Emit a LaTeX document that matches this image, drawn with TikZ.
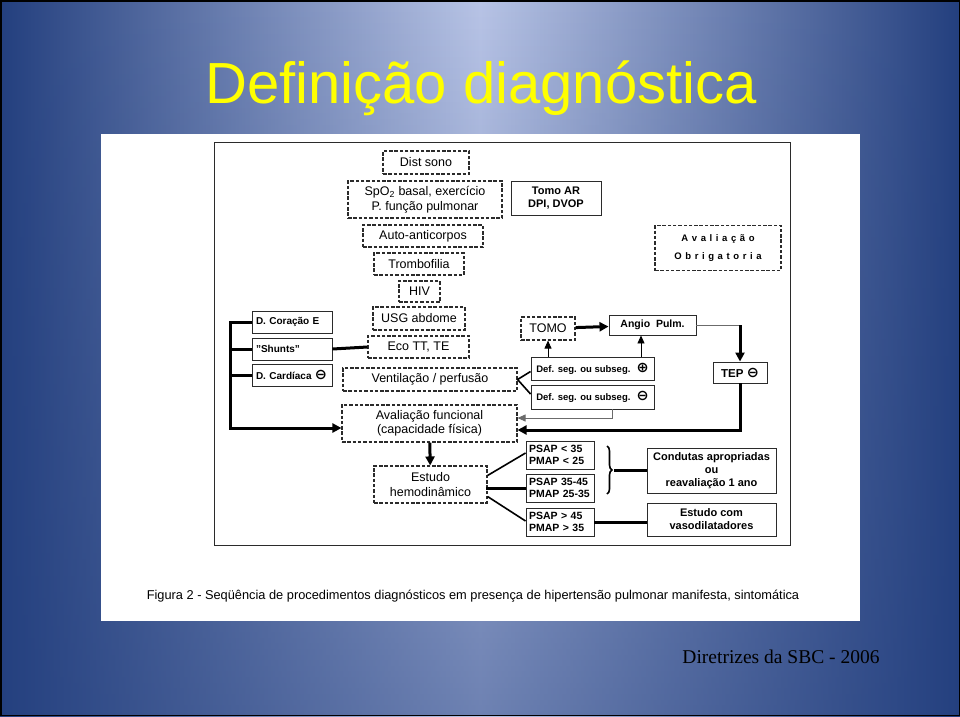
\documentclass[tikz,border=0pt]{standalone}
\usepackage{fontspec}
\setmainfont{Liberation Sans}
\newfontfamily\sbcfont{Liberation Serif}
\newfontfamily\symfont{DejaVu Sans}
\usetikzlibrary{arrows.meta, positioning, calc, fadings, decorations.pathreplacing}
\usepackage{xcolor}
\definecolor{sbcnavy}{HTML}{24407F}
\definecolor{sbclight}{HTML}{B8C4E6}
\definecolor{sbcyellow}{HTML}{FFFF00}
\definecolor{sbcline}{HTML}{2B2B2B}

\tikzset{
  dbox/.style={draw=sbcline, line width=1.1pt, dash pattern=on 3.5pt off 1.8pt,
    fill=white, inner sep=0pt, align=center, font=\fontsize{12.5}{14.5}\selectfont},
  sbox/.style={draw=sbcline, line width=0.9pt, fill=white, inner sep=0pt,
    align=center, font=\fontsize{10.5}{12.5}\selectfont\bfseries},
  thk/.style={line width=3pt, -{Triangle[length=9pt,width=9pt]}},
  thkline/.style={line width=3pt},
  thn/.style={line width=0.9pt, -{Triangle[length=8pt,width=7pt]}},
  midline/.style={line width=1.6pt}
}
\newcommand{\cminus}{{\symfont\Large ⊖}}
\newcommand{\cplus}{{\symfont\Large ⊕}}
\newcommand{\lsp}{\hspace{3.6pt}}

\begin{document}
\begin{tikzpicture}[x=1pt, y=-1pt]
  \useasboundingbox (0,0) rectangle (960,716);

  % Background
  \shade[left color=sbcnavy, right color=sbcnavy, middle color=sbclight] (0,0) rectangle (960,716);
  \fill[sbcnavy, opacity=0.5, path fading=north] (0,0) rectangle (960,716);
  \draw[black, line width=1.5pt] (0.75,0.75) rectangle (959.25,715.25);

  % Title
  \node[font=\fontsize{58}{64}\selectfont, text=sbcyellow] (title) at (481,88) {Definição diagnóstica};

  % White panel and frame
  \fill[white] (101,134) rectangle (860,621);
  \draw[sbcline, line width=0.9pt] (214,142) rectangle (790,545);

  % Left column of tests
  \node[dbox, minimum width=86, minimum height=23] (dist) at (426,162.5) {Dist sono};
  \node[dbox, minimum width=154, minimum height=37] (spo) at (425,199.5) {SpO\textsubscript{2} basal, exercício\\P. função pulmonar};
  \node[dbox, minimum width=120, minimum height=22] (auto) at (423,236) {Auto-anticorpos};
  \node[dbox, minimum width=90, minimum height=22] (trombo) at (419,264) {Trombofilia};
  \node[dbox, minimum width=41, minimum height=21] (hiv) at (419.5,291.5) {HIV};
  \node[dbox, minimum width=92, minimum height=23] (usg) at (419,318.5) {USG abdome};
  \node[dbox, minimum width=101, minimum height=22] (eco) at (418.5,347) {Eco TT, TE};
  \node[dbox, minimum width=174, minimum height=23] (vent) at (430,379.5) {Ventilação / perfusão};
  \node[dbox, minimum width=175, minimum height=37] (avfunc) at (429.5,423.5) {Avaliação funcional\\(capacidade física)};
  \node[dbox, minimum width=113, minimum height=37] (estudo) at (430.5,484.5) {Estudo\\hemodinâmico};

  % Right side boxes
  \node[sbox, minimum width=90, minimum height=34, font=\fontsize{11}{13}\selectfont\bfseries] (tomoar) at (556,198) {Tomo AR\\DPI, DVOP};
  \node[dbox, minimum width=126, minimum height=45, font=\fontsize{9.5}{18}\selectfont\bfseries] (aval) at (718,248)
    {A\lsp v\lsp a\lsp l\lsp i\lsp a\lsp ç\lsp ã\lsp o\\O\lsp b\lsp r\lsp i\lsp g\lsp a\lsp t\lsp o\lsp r\lsp i\lsp a};
  \node[sbox, minimum width=80, minimum height=22, text width=72, align=left, font=\fontsize{10}{12}\selectfont\bfseries] (dcor) at (292,322) {D. Coração E};
  \node[sbox, minimum width=80, minimum height=22, text width=72, align=left, font=\fontsize{10}{12}\selectfont\bfseries] (shunts) at (292,349) {"Shunts"};
  \node[sbox, minimum width=80, minimum height=22, text width=72, align=left, font=\fontsize{10}{12}\selectfont\bfseries] (dcard) at (292,375) {D. Cardíaca \cminus};
  \node[dbox, minimum width=54, minimum height=23] (tomo) at (548,328.5) {TOMO};
  \node[sbox, minimum width=87, minimum height=20] (angio) at (652.5,325) {Angio~ Pulm.};
  \node[sbox, minimum width=123, minimum height=23, font=\fontsize{9.5}{11}\selectfont\bfseries] (defp) at (592.5,368.5) {Def. seg. ou subseg.~ \cplus};
  \node[sbox, minimum width=123, minimum height=24, font=\fontsize{9.5}{11}\selectfont\bfseries] (defm) at (592.5,397) {Def. seg. ou subseg.~ \cminus};
  \node[sbox, minimum width=54, minimum height=21, font=\fontsize{11.5}{13}\selectfont\bfseries] (tep) at (740,372.5) {TEP \cminus};
  \node[sbox, minimum width=68, minimum height=28, text width=62, align=left] (psapa) at (560,455) {PSAP < 35\\PMAP < 25};
  \node[sbox, minimum width=68, minimum height=28, text width=62, align=left] (psapb) at (560,488) {PSAP 35-45\\PMAP 25-35};
  \node[sbox, minimum width=68, minimum height=28, text width=62, align=left] (psapc) at (560,522) {PSAP > 45\\PMAP > 35};
  \node[sbox, minimum width=129, minimum height=45, font=\fontsize{11}{13}\selectfont\bfseries] (condutas) at (711.5,470.5) {Condutas apropriadas\\ou\\reavaliação 1 ano};
  \node[sbox, minimum width=129, minimum height=33, font=\fontsize{11}{13}\selectfont\bfseries] (vaso) at (711.5,519.5) {Estudo com\\vasodilatadores};

  % Left bracket
  \draw[thk] (dcor.west) -- ++(-21,0) coordinate (lb) |- ([yshift=-4.5pt]avfunc.west);
  \draw[thkline] (shunts.west) -- (lb |- shunts.west);
  \draw[thkline] (dcard.west) -- (lb |- dcard.west);
  \draw[thkline] (shunts.east) -- (eco.west);

  % V/Q branch
  \draw[midline] (vent.east) -- ([yshift=-3pt]defp.west);
  \draw[midline] (vent.east) -- ([yshift=3pt]defm.west);
  \draw[thn] (tomo.south |- defp.north) -- (tomo.south);
  \draw[thn] ([xshift=-11.5pt]angio.south |- defp.north) -- ([xshift=-11.5pt]angio.south);
  \draw[thk] (tomo) -- (angio);
  \draw[line width=0.9pt, sbcline!70] (angio.east) -- (angio.east -| tep.north);
  \draw[thk] (angio.east -| tep.north) -- (tep.north);
  \draw[thk] (tep.south) |- ([yshift=-6.5pt]avfunc.east);
  \draw[thn, sbcline!70] ([xshift=20pt]defm.south) |- ([yshift=5.5pt]avfunc.east);
  \draw[thk] (avfunc) -- (estudo);

  % Hemodynamics
  \draw[midline] ([yshift=9pt]estudo.east) -- ([yshift=2pt]psapa.west);
  \draw[thkline] ([yshift=-2pt]estudo.east) -- (estudo.east |- psapb.west) -- (psapb.west);
  \draw[midline] ([yshift=-12pt]estudo.east) -- ([yshift=1pt]psapc.west);
  \draw[line width=1.6pt, decorate, decoration={brace, amplitude=5pt}] (607,446) -- (607,494);
  \coordinate (br) at (614,470.5);
  \draw[thkline] (br) -- (condutas.west);
  \draw[thkline] (psapc.east) -- (psapc.east -| vaso.west);

  % Caption and source
  \node[font=\fontsize{12.8}{14}\selectfont, text=black] (caption) at (473,596)
    {Figura 2 - Seqüência de procedimentos diagnósticos em presença de hipertensão pulmonar manifesta, sintomática};
  \node[font=\sbcfont\fontsize{19.5}{22}\selectfont, text=black] (source) at (781,657) {Diretrizes da SBC - 2006};
\end{tikzpicture}
\end{document}
